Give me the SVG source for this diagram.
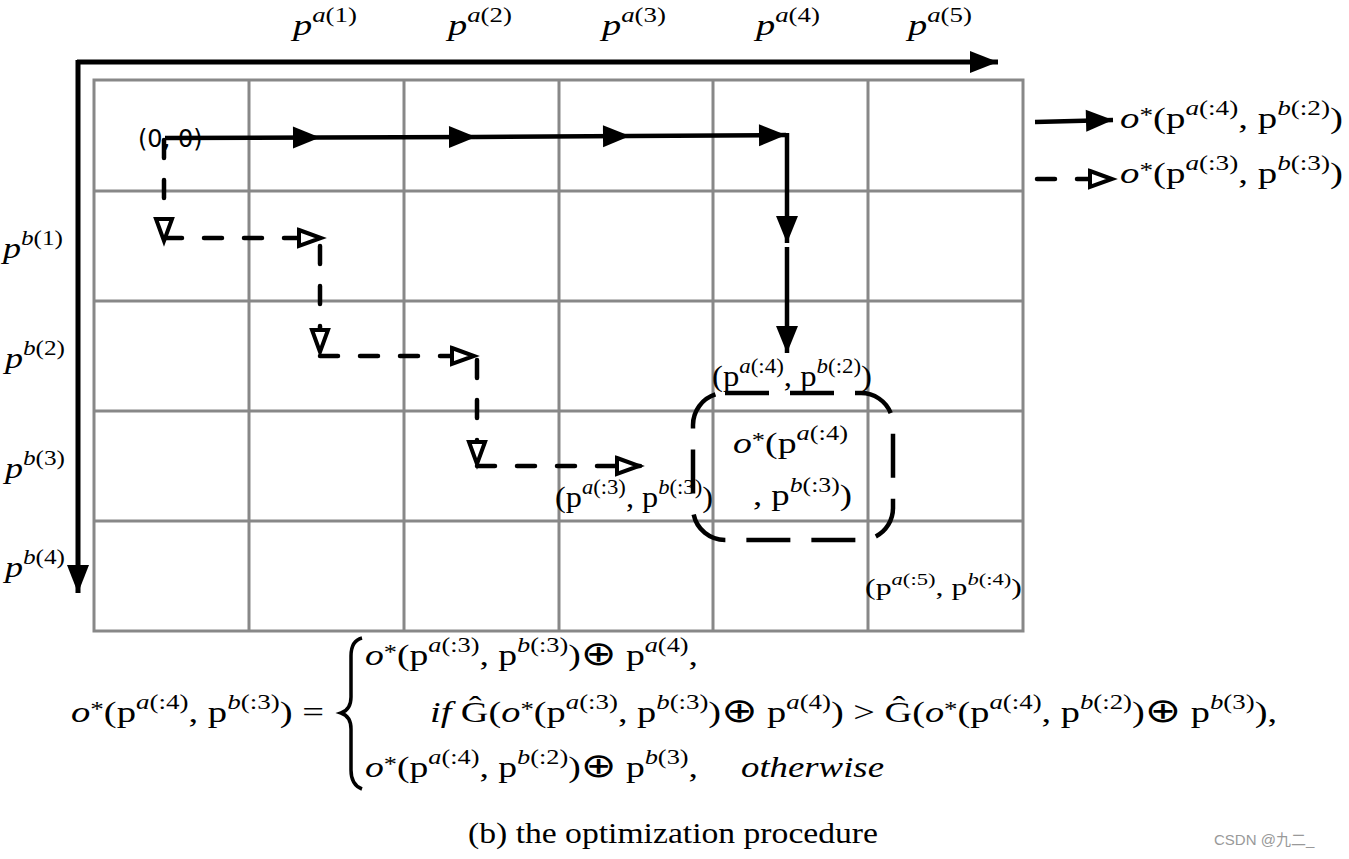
<svg xmlns="http://www.w3.org/2000/svg" width="1349" height="859" viewBox="0 0 1349 859">
<style>
.m{font-family:"Liberation Serif","Times New Roman",serif;font-size:30px;fill:#000}
.sm{font-family:"Liberation Serif","Times New Roman",serif;font-size:24px;fill:#000}
.i{font-style:italic}
.s{font-size:21px}
.ss{font-size:17px}
.op{font-family:"DejaVu Sans",sans-serif;font-size:34px;font-weight:normal}
.grid{stroke:#888;stroke-width:3;fill:none}
.axis{stroke:#000;stroke-width:5;fill:none}
.sol{stroke:#000;stroke-width:4.5;fill:none;marker-end:url(#ah)}
.dsh{stroke:#000;stroke-width:4.5;fill:none;stroke-dasharray:18 22;stroke-linecap:round;marker-end:url(#oh)}
</style>
<defs>
<marker id="ah" markerUnits="userSpaceOnUse" markerWidth="28" markerHeight="22" refX="27" refY="11" orient="auto" overflow="visible"><path d="M0,0 L27,11 L0,22 z" fill="#000"/></marker>
<marker id="ax" markerUnits="userSpaceOnUse" markerWidth="30" markerHeight="22" refX="28" refY="11" orient="auto" overflow="visible"><path d="M0,0 L28,11 L0,22 z" fill="#000"/></marker>
<marker id="oh" markerUnits="userSpaceOnUse" markerWidth="28" markerHeight="22" refX="26" refY="10" orient="auto" overflow="visible"><path d="M3,2 L25,10 L3,18 z" fill="#fff" stroke="#000" stroke-width="4" stroke-dasharray="none"/></marker>
</defs>
<rect width="1349" height="859" fill="#fff"/>

<g id="grid">
<rect class="grid" x="94" y="80" width="929" height="551"/>
<path class="grid" d="M249,80V631M404,80V631M559,80V631M713,80V631M868,80V631M94,191H1023M94,301H1023M94,411H1023M94,521H1023"/>
</g>

<g id="axes">
<path class="axis" d="M77,62 H998" marker-end="url(#ax)"/>
<path class="axis" d="M78,60 V593" marker-end="url(#ax)"/>
</g>

<g id="axis-labels">
<text id="pa1" class="m" x="293" y="35" textLength="64" lengthAdjust="spacingAndGlyphs"><tspan class="i">p</tspan><tspan class="s" dy="-13"><tspan class="i">a</tspan>(1)</tspan></text>
<text id="pa2" class="m" x="448" y="35" textLength="64" lengthAdjust="spacingAndGlyphs"><tspan class="i">p</tspan><tspan class="s" dy="-13"><tspan class="i">a</tspan>(2)</tspan></text>
<text id="pa3" class="m" x="602" y="35" textLength="64" lengthAdjust="spacingAndGlyphs"><tspan class="i">p</tspan><tspan class="s" dy="-13"><tspan class="i">a</tspan>(3)</tspan></text>
<text id="pa4" class="m" x="756" y="35" textLength="64" lengthAdjust="spacingAndGlyphs"><tspan class="i">p</tspan><tspan class="s" dy="-13"><tspan class="i">a</tspan>(4)</tspan></text>
<text id="pa5" class="m" x="908" y="35" textLength="64" lengthAdjust="spacingAndGlyphs"><tspan class="i">p</tspan><tspan class="s" dy="-13"><tspan class="i">a</tspan>(5)</tspan></text>
<text id="pb1" class="m" x="3" y="258" textLength="60" lengthAdjust="spacingAndGlyphs"><tspan class="i">p</tspan><tspan class="s" dy="-13"><tspan class="i">b</tspan>(1)</tspan></text>
<text id="pb2" class="m" x="5" y="368" textLength="60" lengthAdjust="spacingAndGlyphs"><tspan class="i">p</tspan><tspan class="s" dy="-13"><tspan class="i">b</tspan>(2)</tspan></text>
<text id="pb3" class="m" x="5" y="478" textLength="60" lengthAdjust="spacingAndGlyphs"><tspan class="i">p</tspan><tspan class="s" dy="-13"><tspan class="i">b</tspan>(3)</tspan></text>
<text id="pb4" class="m" x="5" y="577" textLength="60" lengthAdjust="spacingAndGlyphs"><tspan class="i">p</tspan><tspan class="s" dy="-13"><tspan class="i">b</tspan>(4)</tspan></text>
</g>

<g id="origin">
<text x="138" y="147" font-family="'DejaVu Sans',sans-serif" font-size="24" fill="#000">(0, 0)</text>
</g>

<g id="cell-labels">
<text id="n42" class="m" x="712" y="386" textLength="160" lengthAdjust="spacingAndGlyphs">(p<tspan class="s" dy="-13"><tspan class="i">a</tspan>(:4)</tspan><tspan dy="13">, p</tspan><tspan class="s" dy="-13"><tspan class="i">b</tspan>(:2)</tspan><tspan dy="13">)</tspan></text>
<text id="n33" class="m" x="555" y="507" textLength="158" lengthAdjust="spacingAndGlyphs">(p<tspan class="s" dy="-13"><tspan class="i">a</tspan>(:3)</tspan><tspan dy="13">, p</tspan><tspan class="s" dy="-13"><tspan class="i">b</tspan>(:3)</tspan><tspan dy="13">)</tspan></text>
<text id="n54" class="sm" x="865" y="595" textLength="157" lengthAdjust="spacingAndGlyphs">(p<tspan class="ss" dy="-10"><tspan class="i">a</tspan>(:5)</tspan><tspan dy="10">, p</tspan><tspan class="ss" dy="-10"><tspan class="i">b</tspan>(:4)</tspan><tspan dy="10">)</tspan></text>
</g>

<g id="target-node">
<rect x="693" y="393" width="200" height="147" rx="32" fill="none" stroke="#000" stroke-width="4.5" stroke-dasharray="44 21"/>
<text class="m" x="733" y="453" textLength="115" lengthAdjust="spacingAndGlyphs"><tspan class="i">o</tspan><tspan class="s" dy="-6">*</tspan><tspan dy="6">(p</tspan><tspan class="s" dy="-13"><tspan class="i">a</tspan>(:4)</tspan></text>
<text class="m" x="753" y="505" textLength="99" lengthAdjust="spacingAndGlyphs">, p<tspan class="s" dy="-13"><tspan class="i">b</tspan>(:3)</tspan><tspan dy="13">)</tspan></text>
</g>

<g id="connectors">
<path class="sol" d="M165,138 L320,137.5"/>
<path class="sol" d="M320,137.5 L476,137"/>
<path class="sol" d="M476,137 L630,136"/>
<path class="sol" d="M630,136 L786,135"/>
<path class="sol" d="M787,133 V243"/>
<path class="sol" d="M787,247 V353"/>
<path class="dsh" d="M164,140 V242"/>
<path class="dsh" d="M164,238 H322"/>
<path class="dsh" d="M320,246 V353"/>
<path class="dsh" d="M320,356 H475"/>
<path class="dsh" d="M477,360 V465"/>
<path class="dsh" d="M477,466 H640"/>
</g>

<g id="legend">
<path class="sol" d="M1035,122 L1113,120"/>
<path class="dsh" d="M1037,179 H1113"/>
<text class="m" x="1120" y="128" textLength="223" lengthAdjust="spacingAndGlyphs"><tspan class="i">o</tspan><tspan class="s" dy="-6">*</tspan><tspan dy="6">(p</tspan><tspan class="s" dy="-13"><tspan class="i">a</tspan>(:4)</tspan><tspan dy="13">, p</tspan><tspan class="s" dy="-13"><tspan class="i">b</tspan>(:2)</tspan><tspan dy="13">)</tspan></text>
<text class="m" x="1120" y="183" textLength="223" lengthAdjust="spacingAndGlyphs"><tspan class="i">o</tspan><tspan class="s" dy="-6">*</tspan><tspan dy="6">(p</tspan><tspan class="s" dy="-13"><tspan class="i">a</tspan>(:3)</tspan><tspan dy="13">, p</tspan><tspan class="s" dy="-13"><tspan class="i">b</tspan>(:3)</tspan><tspan dy="13">)</tspan></text>
</g>

<g id="formula">
<text class="m" x="71" y="722" textLength="253" lengthAdjust="spacingAndGlyphs"><tspan class="i">o</tspan><tspan class="s" dy="-6">*</tspan><tspan dy="6">(p</tspan><tspan class="s" dy="-13"><tspan class="i">a</tspan>(:4)</tspan><tspan dy="13">, p</tspan><tspan class="s" dy="-13"><tspan class="i">b</tspan>(:3)</tspan><tspan dy="13">) =</tspan></text>
<path d="M362,638 C354,640 351,646 351,656 L351,697 C351,707 347,711 341,713 C347,715 351,719 351,729 L351,770 C351,780 354,786 362,789" fill="none" stroke="#000" stroke-width="3.5"/>
<text class="m" x="365" y="665" textLength="333" lengthAdjust="spacingAndGlyphs"><tspan class="i">o</tspan><tspan class="s" dy="-6">*</tspan><tspan dy="6">(p</tspan><tspan class="s" dy="-13"><tspan class="i">a</tspan>(:3)</tspan><tspan dy="13">, p</tspan><tspan class="s" dy="-13"><tspan class="i">b</tspan>(:3)</tspan><tspan dy="13">)</tspan><tspan class="op">⊕</tspan> p<tspan class="s" dy="-13"><tspan class="i">a</tspan>(4)</tspan><tspan dy="13">,</tspan></text>
<text class="m" x="430" y="722" textLength="847" lengthAdjust="spacingAndGlyphs"><tspan class="i">if</tspan> Ĝ(<tspan class="i">o</tspan><tspan class="s" dy="-6">*</tspan><tspan dy="6">(p</tspan><tspan class="s" dy="-13"><tspan class="i">a</tspan>(:3)</tspan><tspan dy="13">, p</tspan><tspan class="s" dy="-13"><tspan class="i">b</tspan>(:3)</tspan><tspan dy="13">)</tspan><tspan class="op">⊕</tspan> p<tspan class="s" dy="-13"><tspan class="i">a</tspan>(4)</tspan><tspan dy="13">) &gt; Ĝ(</tspan><tspan class="i">o</tspan><tspan class="s" dy="-6">*</tspan><tspan dy="6">(p</tspan><tspan class="s" dy="-13"><tspan class="i">a</tspan>(:4)</tspan><tspan dy="13">, p</tspan><tspan class="s" dy="-13"><tspan class="i">b</tspan>(:2)</tspan><tspan dy="13">)</tspan><tspan class="op">⊕</tspan> p<tspan class="s" dy="-13"><tspan class="i">b</tspan>(3)</tspan><tspan dy="13">),</tspan></text>
<text class="m" x="365" y="777" textLength="333" lengthAdjust="spacingAndGlyphs"><tspan class="i">o</tspan><tspan class="s" dy="-6">*</tspan><tspan dy="6">(p</tspan><tspan class="s" dy="-13"><tspan class="i">a</tspan>(:4)</tspan><tspan dy="13">, p</tspan><tspan class="s" dy="-13"><tspan class="i">b</tspan>(:2)</tspan><tspan dy="13">)</tspan><tspan class="op">⊕</tspan> p<tspan class="s" dy="-13"><tspan class="i">b</tspan>(3)</tspan><tspan dy="13">,</tspan></text>
<text class="m i" x="741" y="777" textLength="143" lengthAdjust="spacingAndGlyphs">otherwise</text>
</g>

<g id="caption">
<text class="m" x="468" y="843" font-size="28" textLength="410" lengthAdjust="spacingAndGlyphs">(b)  the optimization procedure</text>
<text x="1214" y="845" font-family="'Liberation Sans','Noto Sans CJK SC',sans-serif" font-size="15" fill="#999">CSDN @九二_</text>
</g>
</svg>
